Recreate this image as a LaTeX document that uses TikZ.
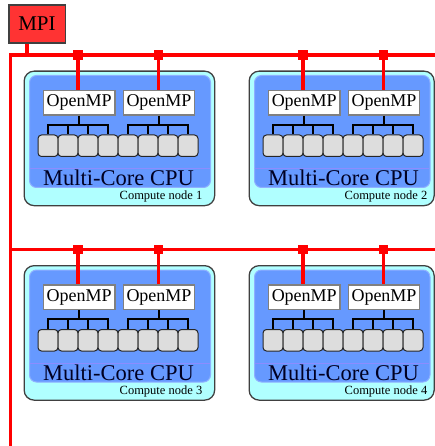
\documentclass[tikz,border=0pt]{standalone}
\usepackage{fontspec}
\setmainfont{Liberation Serif}
\newfontfamily\diagfont{Liberation Serif}
\definecolor{mpired}{HTML}{FF3333}
\definecolor{busred}{HTML}{FF0000}
\definecolor{outerc}{HTML}{B0FFFF}
\definecolor{innerc}{HTML}{6699FF}
\definecolor{innerb}{HTML}{8FB0FF}
\definecolor{sepc}{HTML}{8C8CFF}
\definecolor{coref}{HTML}{DDDDDD}
\definecolor{textc}{HTML}{000022}
\tikzset{
  outerbox/.style={draw=black!75, line width=1.3pt, fill=outerc, rounded corners=10pt, inner sep=0, anchor=north west},
  innerbox/.style={draw=innerb, line width=1pt, fill=innerc, rounded corners=7pt, inner sep=0, anchor=north west},
  ompbox/.style={draw=black!50, line width=1.2pt, fill=white, inner sep=0, minimum width=71.5pt, minimum height=24.5pt, font=\diagfont\fontsize{18}{18}\selectfont},
  corebox/.style={draw=black!85, line width=1pt, fill=coref, rounded corners=3.5pt, minimum width=20pt, minimum height=21.5pt, inner sep=0},
  busline/.style={draw=busred, line width=3.8pt},
  junction/.style={fill=busred, minimum size=9.5pt, inner sep=0},
  treeline/.style={draw=black, line width=2pt},
  seppath/.style={draw=sepc, line width=1pt},
  mpibox/.style={draw=black!75, line width=1.5pt, fill=mpired, inner sep=0, minimum width=56.5pt, minimum height=38pt, font=\diagfont\fontsize{21}{21}\selectfont},
  cputext/.style={font=\diagfont\fontsize{22.5}{22.5}\selectfont, text=textc, anchor=base, inner sep=0},
  cntext/.style={font=\diagfont\fontsize{12.5}{12.5}\selectfont, anchor=base east, inner sep=0},
}
\begin{document}
\begin{tikzpicture}[x=1pt,y=-1pt]
\useasboundingbox (0,0) rectangle (435,446);
% compute nodes
\foreach \n/\ox/\oy/\w in {1/0/0/0, 2/225/0/5.5, 3/0/194.5/0, 4/225/194.5/5.5}{
  \begin{scope}[shift={(\ox,\oy)}]
    \node[outerbox, minimum width=190.5pt-\w pt, minimum height=134.5pt] (outer\n) at (23.5,70.5) {};
    \node[innerbox, minimum width=181pt-\w pt, minimum height=112pt] (inner\n) at (29,75) {};
    \coordinate (sa\n) at (29.5,169);
    \coordinate (sb\n) at (209.5-\w,169);
    \draw[seppath] (sa\n) -- (sb\n);
    \node[ompbox] (ompa\n) at (79.25,102.75) {OpenMP};
    \node[ompbox] (ompb\n) at (159,102.75) {OpenMP};
    \foreach \i in {0,...,7}{
      \node[corebox] (core\n-\i) at (48+20*\i,145.75) {};
    }
    \draw[treeline] (ompa\n.south) -- ++(0,9) coordinate (bra\n);
    \draw[treeline] (ompb\n.south) -- ++(0,9) coordinate (brb\n);
    \foreach \i in {0,...,3}{
      \draw[treeline] (bra\n) -| (core\n-\i.north);
    }
    \foreach \i in {4,...,7}{
      \draw[treeline] (brb\n) -| (core\n-\i.north);
    }
    \node[cputext] (cpu\n) at (118.5,185.5) {Multi-Core CPU};
    \node[cntext] (cn\n) at (202.5,199.5) {Compute node \n};
    \coordinate (ja\n) at (78,55);
    \coordinate (jb\n) at (158.5,55);
    \draw[busline] (ja\n) -- (ja\n |- ompa\n.north);
    \draw[busline] (jb\n) -- (jb\n |- ompb\n.north);
  \end{scope}
}
% MPI and buses
\node[mpibox] (mpi) at (37,24) {MPI};
\coordinate (b1w) at (10.5,55);
\coordinate (b1e) at (436,55);
\coordinate (b2w) at (10.5,249.5);
\coordinate (b2e) at (436,249.5);
\coordinate (vb) at (10.5,447);
\draw[busline] ([xshift=-10.3pt]mpi.south) -- ([xshift=-10.3pt]mpi.south |- b1w);
\draw[busline] (vb) -- (b1w) -- (b1e);
\draw[busline] (b2w) -- (b2e);
\foreach \n in {1,...,4}{
  \node[junction] (jsa\n) at (ja\n) {};
  \node[junction] (jsb\n) at (jb\n) {};
}
\end{tikzpicture}
\end{document}
